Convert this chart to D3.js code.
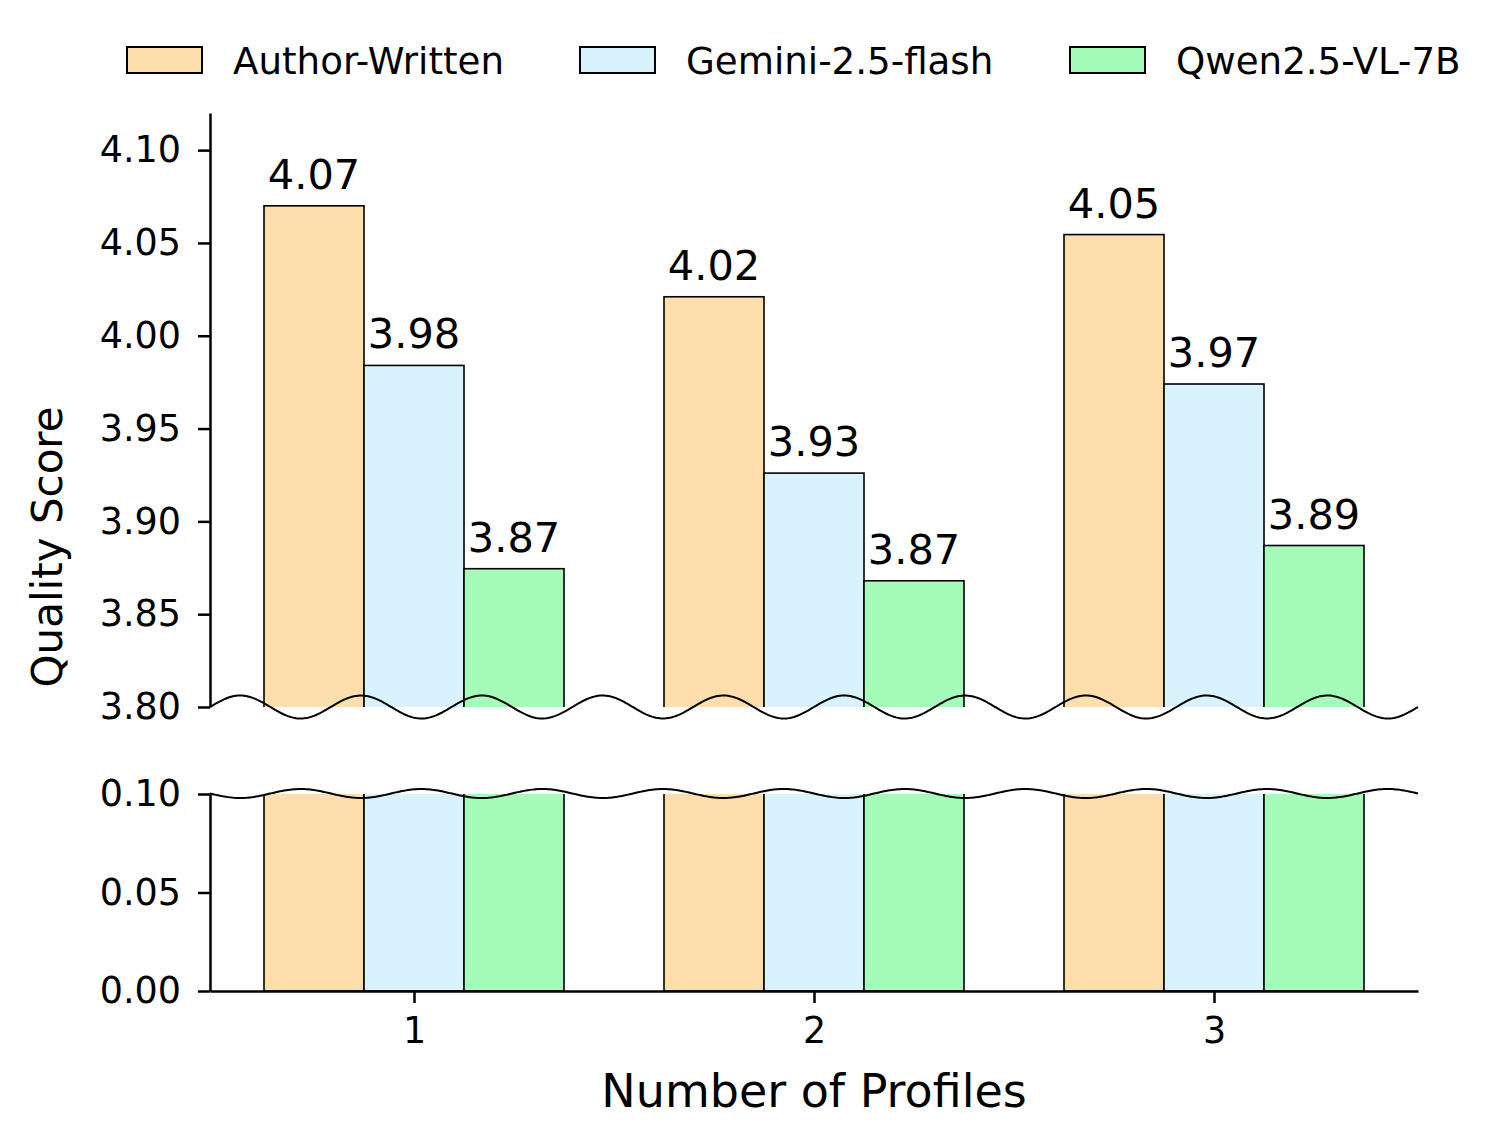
<!DOCTYPE html>
<html>
<head>
<meta charset="utf-8">
<script src="https://cdn.jsdelivr.net/npm/d3@7"></script>
<style>
  body { margin: 0; background: #fff; }
  text { font-family: "DejaVu Sans", sans-serif; fill: #000; }
</style>
</head>
<body>
<svg id="chart" width="1506" height="1146"></svg>
<script>
var categories = [1, 2, 3];
var seriesNames = ["Author-Written", "Gemini-2.5-flash", "Qwen2.5-VL-7B"];
var authorWritten = [4.070, 4.021, 4.0545];
var gemini = [3.984, 3.926, 3.974];
var qwen = [3.8745, 3.868, 3.887];
var colors = ["#fddeac", "#d8f3fd", "#a4fcb8"];
var topTicks = [3.80, 3.85, 3.90, 3.95, 4.00, 4.05, 4.10];
var bottomTicks = [0.00, 0.05, 0.10];

var seriesValues = [authorWritten, gemini, qwen];

var svg = d3.select("#chart");

var x = d3.scaleLinear().domain([0.49, 3.51]).range([210, 1418]);
var yTop = d3.scaleLinear().domain([3.80, 4.12]).range([707, 113]);
var yBot = d3.scaleLinear().domain([0, 0.10]).range([991, 794]);
var barW = 0.25;

// clip regions for the two panels
var defs = svg.append("defs");
defs.append("clipPath").attr("id", "clipTop").append("rect")
    .attr("x", x.range()[0]).attr("y", yTop.range()[1])
    .attr("width", x.range()[1] - x.range()[0])
    .attr("height", yTop.range()[0] - yTop.range()[1]);
defs.append("clipPath").attr("id", "clipBot").append("rect")
    .attr("x", x.range()[0]).attr("y", yBot.range()[1])
    .attr("width", x.range()[1] - x.range()[0])
    .attr("height", yBot.range()[0] - yBot.range()[1]);

var bars = [];
seriesValues.forEach(function (vals, s) {
    vals.forEach(function (v, i) {
        bars.push({s: s, cat: categories[i], value: v});
    });
});

function barX(d) { return x(d.cat + (d.s - 1) * barW - barW / 2); }
var bw = x(1 + barW) - x(1);

// top panel bars
svg.append("g").attr("clip-path", "url(#clipTop)")
    .selectAll("rect").data(bars).enter().append("rect")
    .attr("x", barX)
    .attr("y", function (d) { return yTop(d.value); })
    .attr("width", bw)
    .attr("height", function (d) { return yTop(3.80) + 20 - yTop(d.value); })
    .attr("fill", function (d) { return colors[d.s]; })
    .attr("stroke", "#000").attr("stroke-width", 1.6);

// bottom panel bars
svg.append("g").attr("clip-path", "url(#clipBot)")
    .selectAll("rect").data(bars).enter().append("rect")
    .attr("x", barX)
    .attr("y", yBot(0.10) - 20)
    .attr("width", bw)
    .attr("height", yBot(0) - yBot(0.10) + 20)
    .attr("fill", function (d) { return colors[d.s]; })
    .attr("stroke", "#000").attr("stroke-width", 1.6);

// value labels
svg.append("g").selectAll("text").data(bars).enter().append("text")
    .attr("x", function (d) { return barX(d) + bw / 2; })
    .attr("y", function (d) { return yTop(d.value) - 17; })
    .attr("text-anchor", "middle")
    .style("font-size", "41.5px")
    .text(function (d) { return d3.format(".2f")(d.value); });

// axes
function styleAxis(g) {
    g.selectAll(".domain").attr("stroke", "#000").attr("stroke-width", 2.5);
    g.selectAll(".tick line").attr("stroke", "#000").attr("stroke-width", 2.5);
    g.selectAll(".tick text").style("font-family", "'DejaVu Sans', sans-serif")
        .style("font-size", "36.5px").attr("fill", "#000");
}

svg.append("g").attr("transform", "translate(" + x.range()[0] + ",0)")
    .call(d3.axisLeft(yTop).tickValues(topTicks).tickFormat(d3.format(".2f"))
        .tickSize(12).tickPadding(17).tickSizeOuter(0))
    .call(styleAxis);

svg.append("g").attr("transform", "translate(" + x.range()[0] + ",0)")
    .call(d3.axisLeft(yBot).tickValues(bottomTicks).tickFormat(d3.format(".2f"))
        .tickSize(12).tickPadding(17).tickSizeOuter(0))
    .call(styleAxis);

svg.append("g").attr("transform", "translate(0," + yBot(0) + ")")
    .call(d3.axisBottom(x).tickValues(categories).tickFormat(d3.format("d"))
        .tickSize(12).tickPadding(14).tickSizeOuter(0))
    .call(styleAxis);

// wavy break marks
function wave(yc, amp, sign) {
    var x0 = x.range()[0], x1 = x.range()[1];
    var period = (x1 - x0) / 10;
    var pts = d3.range(x0, x1 + 0.5, 2).map(function (px) {
        return [px, yc + sign * amp * Math.sin(2 * Math.PI * (px - x0) / period)];
    });
    return d3.line()(pts);
}
svg.append("path").attr("d", wave(yTop(3.80), 11.5, -1))
    .attr("fill", "none").attr("stroke", "#000").attr("stroke-width", 2);
svg.append("path").attr("d", wave(yBot(0.10) - 0.5, 4.5, 1))
    .attr("fill", "none").attr("stroke", "#000").attr("stroke-width", 2);

// axis titles
svg.append("text").attr("x", 814).attr("y", 1107)
    .attr("text-anchor", "middle").style("font-size", "46px")
    .text("Number of Profiles");
svg.append("text")
    .attr("transform", "translate(62,547) rotate(-90)")
    .attr("text-anchor", "middle").style("font-size", "42px")
    .text("Quality Score");

// legend
var legendX = [127, 580, 1070];
var legend = svg.append("g").selectAll("g").data(seriesNames).enter().append("g")
    .attr("transform", function (d, i) { return "translate(" + legendX[i] + ",47)"; });
legend.append("rect").attr("width", 75).attr("height", 26)
    .attr("fill", function (d, i) { return colors[i]; })
    .attr("stroke", "#000").attr("stroke-width", 2);
legend.append("text").attr("x", 106).attr("y", 27)
    .style("font-size", "37.2px")
    .text(function (d) { return d; });
</script>
</body>
</html>
